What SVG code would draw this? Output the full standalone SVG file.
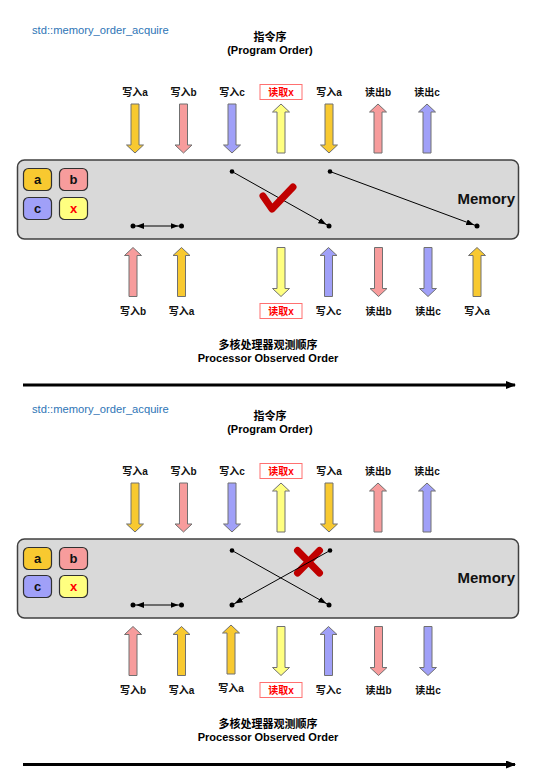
<svg xmlns="http://www.w3.org/2000/svg" xmlns:xlink="http://www.w3.org/1999/xlink" width="540" height="779" viewBox="0 0 540 779">
<style>
.bg{fill:#ffffff}
.hdr{font-family:"Liberation Sans","Noto Sans",sans-serif;font-size:11.2px;fill:#2e75b6}
.ttl{font-family:"Liberation Sans","Noto Sans CJK SC",sans-serif;font-size:11px;font-weight:bold;fill:#000;text-anchor:middle}
.lbl{font-family:"Liberation Sans","Noto Sans CJK SC",sans-serif;font-size:10px;font-weight:bold;fill:#111;text-anchor:middle}
.rlbl{font-family:"Liberation Sans","Noto Sans CJK SC",sans-serif;font-size:10px;font-weight:bold;fill:#ff0000;text-anchor:middle}
.rbox{fill:#ffffff;stroke:#ff7070;stroke-width:1}
.mem{fill:#d9d9d9;stroke:#404040;stroke-width:1.5}
.memt{font-family:"Liberation Sans","Noto Sans",sans-serif;font-size:15px;font-weight:bold;fill:#111;text-anchor:end}
.vb{stroke:#303030;stroke-width:1.2}
.vt{font-family:"Liberation Sans","Noto Sans",sans-serif;font-size:13px;font-weight:bold;fill:#111;text-anchor:middle}
.ya{fill:#f8c930}.pk{fill:#f79c9c}.lv{fill:#a0a0f8}.ly{fill:#ffff80}
.arr{stroke:#707070;stroke-width:1}
.ln{stroke:#000;stroke-width:1;fill:none}
.dot{fill:#000}
.tl{stroke:#000;stroke-width:3;fill:none}
.mark{stroke:#c00000;stroke-width:7;stroke-linecap:round;stroke-linejoin:round;fill:none}
</style>
<defs>
<path id="dn" d="M-4,0 H4 V41 H8.5 L0,49 L-8.5,41 H-4 Z"/>
<path id="up" d="M0,0 L8.5,8 H4 V49 H-4 V8 H-8.5 Z"/>
<marker id="ah" viewBox="0 0 12 6" markerWidth="12" markerHeight="6" refX="11" refY="3" orient="auto-start-reverse" markerUnits="userSpaceOnUse">
<path d="M0,0 L8,3 L0,6 Z" fill="#000"/>
</marker>
<marker id="th" viewBox="0 0 10 8" markerWidth="10" markerHeight="8" refX="9" refY="4" orient="auto" markerUnits="userSpaceOnUse">
<path d="M0,0 L10,4 L0,8 Z" fill="#000"/>
</marker>
</defs>
<rect class="bg" x="0" y="0" width="540" height="779"/>

<!-- ===== Panel 1 ===== -->
<g id="p1-header">
<text class="hdr" x="32" y="34">std::memory_order_acquire</text>
<text class="ttl" x="270" y="41">指令序</text>
<text class="ttl" x="270" y="54">(Program Order)</text>
</g>

<g id="p1-top-ops">
<g id="p1-t1"><text class="lbl" x="135" y="96">写入a</text><use xlink:href="#dn" x="135" y="104" class="ya arr"/></g>
<g id="p1-t2"><text class="lbl" x="183.5" y="96">写入b</text><use xlink:href="#dn" x="183.5" y="104" class="pk arr"/></g>
<g id="p1-t3"><text class="lbl" x="232" y="96">写入c</text><use xlink:href="#dn" x="232" y="104" class="lv arr"/></g>
<g id="p1-t4"><rect class="rbox" x="260" y="84.5" width="42" height="15"/><text class="rlbl" x="281" y="96">读取x</text><use xlink:href="#up" x="281" y="104" class="ly arr"/></g>
<g id="p1-t5"><text class="lbl" x="329" y="96">写入a</text><use xlink:href="#dn" x="329" y="104" class="ya arr"/></g>
<g id="p1-t6"><text class="lbl" x="378" y="96">读出b</text><use xlink:href="#up" x="378" y="104" class="pk arr"/></g>
<g id="p1-t7"><text class="lbl" x="427" y="96">读出c</text><use xlink:href="#up" x="427" y="104" class="lv arr"/></g>
</g>

<g id="p1-memory">
<rect class="mem" x="17.5" y="160" width="501" height="79" rx="7"/>
<text class="memt" x="515" y="204">Memory</text>
<g id="p1-va"><rect class="vb ya" x="23.5" y="168.5" width="28" height="22" rx="5"/><text class="vt" x="37.5" y="184">a</text></g>
<g id="p1-vb"><rect class="vb pk" x="59.5" y="168.5" width="28" height="22" rx="5"/><text class="vt" x="73.5" y="184">b</text></g>
<g id="p1-vc"><rect class="vb lv" x="23.5" y="197.5" width="28" height="22" rx="5"/><text class="vt" x="37.5" y="213">c</text></g>
<g id="p1-vx"><rect class="vb ly" x="59.5" y="197.5" width="28" height="22" rx="5"/><text class="vt" x="73.5" y="213" style="fill:#ff0000">x</text></g>
</g>

<g id="p1-connectors">
<line class="ln" x1="133" y1="226" x2="181.5" y2="226" marker-start="url(#ah)" marker-end="url(#ah)"/>
<circle class="dot" cx="133" cy="226" r="2.5"/><circle class="dot" cx="181.5" cy="226" r="2.5"/>
<line class="ln" x1="232" y1="171.5" x2="329" y2="226" marker-end="url(#ah)"/>
<circle class="dot" cx="232" cy="171.5" r="2.3"/><circle class="dot" cx="329" cy="226" r="2.5"/>
<line class="ln" x1="330" y1="171.5" x2="477" y2="226" marker-end="url(#ah)"/>
<circle class="dot" cx="330" cy="171.5" r="2.3"/><circle class="dot" cx="477" cy="226" r="2.5"/>
<polyline class="mark" points="263,196 272,209 293,187"/>
</g>

<g id="p1-bottom-ops">
<g id="p1-b1"><use xlink:href="#up" x="133" y="247.5" class="pk arr"/><text class="lbl" x="133" y="314.5">写入b</text></g>
<g id="p1-b2"><use xlink:href="#up" x="181.5" y="247.5" class="ya arr"/><text class="lbl" x="181.5" y="314.5">写入a</text></g>
<g id="p1-b3"><use xlink:href="#dn" x="281" y="247.5" class="ly arr"/><rect class="rbox" x="260" y="303.5" width="42" height="15"/><text class="rlbl" x="281" y="314.5">读取x</text></g>
<g id="p1-b4"><use xlink:href="#up" x="328.5" y="247.5" class="lv arr"/><text class="lbl" x="328.5" y="314.5">写入c</text></g>
<g id="p1-b5"><use xlink:href="#dn" x="378.5" y="247.5" class="pk arr"/><text class="lbl" x="378.5" y="314.5">读出b</text></g>
<g id="p1-b6"><use xlink:href="#dn" x="428" y="247.5" class="lv arr"/><text class="lbl" x="428" y="314.5">读出c</text></g>
<g id="p1-b7"><use xlink:href="#up" x="477" y="247.5" class="ya arr"/><text class="lbl" x="477" y="314.5">写入a</text></g>
</g>

<g id="p1-footer">
<text class="ttl" x="268" y="349">多核处理器观测顺序</text>
<text class="ttl" x="268" y="362">Processor Observed Order</text>
<line class="tl" x1="23" y1="385" x2="515" y2="385" marker-end="url(#th)"/>
</g>

<!-- ===== Panel 2 ===== -->
<g id="p2-header">
<text class="hdr" x="32" y="413">std::memory_order_acquire</text>
<text class="ttl" x="270" y="420">指令序</text>
<text class="ttl" x="270" y="433">(Program Order)</text>
</g>

<g id="p2-top-ops">
<g id="p2-t1"><text class="lbl" x="135" y="475">写入a</text><use xlink:href="#dn" x="135" y="483" class="ya arr"/></g>
<g id="p2-t2"><text class="lbl" x="183.5" y="475">写入b</text><use xlink:href="#dn" x="183.5" y="483" class="pk arr"/></g>
<g id="p2-t3"><text class="lbl" x="232" y="475">写入c</text><use xlink:href="#dn" x="232" y="483" class="lv arr"/></g>
<g id="p2-t4"><rect class="rbox" x="260" y="463.5" width="42" height="15"/><text class="rlbl" x="281" y="475">读取x</text><use xlink:href="#up" x="281" y="483" class="ly arr"/></g>
<g id="p2-t5"><text class="lbl" x="329" y="475">写入a</text><use xlink:href="#dn" x="329" y="483" class="ya arr"/></g>
<g id="p2-t6"><text class="lbl" x="378" y="475">读出b</text><use xlink:href="#up" x="378" y="483" class="pk arr"/></g>
<g id="p2-t7"><text class="lbl" x="427" y="475">读出c</text><use xlink:href="#up" x="427" y="483" class="lv arr"/></g>
</g>

<g id="p2-memory">
<rect class="mem" x="17.5" y="539" width="501" height="79" rx="7"/>
<text class="memt" x="515" y="583">Memory</text>
<g id="p2-va"><rect class="vb ya" x="23.5" y="547.5" width="28" height="22" rx="5"/><text class="vt" x="37.5" y="563">a</text></g>
<g id="p2-vb"><rect class="vb pk" x="59.5" y="547.5" width="28" height="22" rx="5"/><text class="vt" x="73.5" y="563">b</text></g>
<g id="p2-vc"><rect class="vb lv" x="23.5" y="575.5" width="28" height="22" rx="5"/><text class="vt" x="37.5" y="591">c</text></g>
<g id="p2-vx"><rect class="vb ly" x="59.5" y="575.5" width="28" height="22" rx="5"/><text class="vt" x="73.5" y="591" style="fill:#ff0000">x</text></g>
</g>

<g id="p2-connectors">
<line class="ln" x1="133" y1="605" x2="181.5" y2="605" marker-start="url(#ah)" marker-end="url(#ah)"/>
<circle class="dot" cx="133" cy="605" r="2.5"/><circle class="dot" cx="181.5" cy="605" r="2.5"/>
<line class="ln" x1="232" y1="550.5" x2="329" y2="605" marker-end="url(#ah)"/>
<circle class="dot" cx="232" cy="550.5" r="2.3"/><circle class="dot" cx="329" cy="605" r="2.5"/>
<path class="mark" d="M297.5,550.5 L319.5,573 M319.5,550.5 L297.5,573"/>
<line class="ln" x1="330" y1="550.5" x2="232" y2="605" marker-end="url(#ah)"/>
<circle class="dot" cx="330" cy="550.5" r="2.3"/><circle class="dot" cx="232" cy="605" r="2.5"/>
</g>

<g id="p2-bottom-ops">
<g id="p2-b1"><use xlink:href="#up" x="133" y="626.5" class="pk arr"/><text class="lbl" x="133" y="693.5">写入b</text></g>
<g id="p2-b2"><use xlink:href="#up" x="181.5" y="626.5" class="ya arr"/><text class="lbl" x="181.5" y="693.5">写入a</text></g>
<g id="p2-b3"><use xlink:href="#up" x="231" y="625" class="ya arr"/><text class="lbl" x="231" y="692">写入a</text></g>
<g id="p2-b4"><use xlink:href="#dn" x="281" y="626.5" class="ly arr"/><rect class="rbox" x="260" y="682.5" width="42" height="15"/><text class="rlbl" x="281" y="693.5">读取x</text></g>
<g id="p2-b5"><use xlink:href="#up" x="328.5" y="626.5" class="lv arr"/><text class="lbl" x="328.5" y="693.5">写入c</text></g>
<g id="p2-b6"><use xlink:href="#dn" x="378.5" y="626.5" class="pk arr"/><text class="lbl" x="378.5" y="693.5">读出b</text></g>
<g id="p2-b7"><use xlink:href="#dn" x="428" y="626.5" class="lv arr"/><text class="lbl" x="428" y="693.5">读出c</text></g>
</g>

<g id="p2-footer">
<text class="ttl" x="268" y="728">多核处理器观测顺序</text>
<text class="ttl" x="268" y="741">Processor Observed Order</text>
<line class="tl" x1="23" y1="764.5" x2="515" y2="764.5" marker-end="url(#th)"/>
</g>
</svg>
